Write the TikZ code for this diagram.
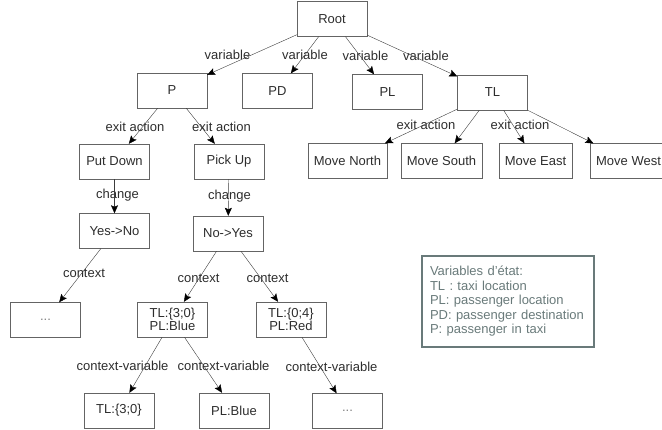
\documentclass[tikz,border=0pt]{standalone}
\usepackage{fontspec}
\setmainfont{Liberation Sans}
\usetikzlibrary{arrows.meta}
\definecolor{edgegray}{RGB}{60,60,60}
\definecolor{boxgray}{RGB}{100,100,100}
\definecolor{textgray}{RGB}{45,45,45}
\definecolor{legendgray}{RGB}{105,122,122}
\begin{document}
\begin{tikzpicture}[x=1pt,y=-1pt,
    every node/.style={font=\fontsize{13}{14.5}\selectfont,text=textgray},
    box/.style={draw=boxgray,minimum width=70pt,minimum height=35pt,inner xsep=6pt,inner ysep=2pt,align=center},
    twoline/.style={box,font=\fontsize{13}{13.5}\selectfont},
    dotsbox/.style={box,text=gray},
    lbl/.style={inner sep=0pt},
    legendbox/.style={draw=legendgray,line width=1.2pt,text=legendgray,align=left,
      text width=156pt,inner xsep=8pt,minimum height=91pt}]
      \useasboundingbox (0,0) rectangle (662,430);
      \clip (0,0) rectangle (662,430);
      \draw
        (332,19) node[box] (root){Root}
        (172,90.5) node[box] (p){P}
        (277.5,91) node[box] (pd){PD}
        (387.5,92) node[box] (pl){PL}
        (492.5,92.5) node[box] (tl){TL}
        (114.5,161.5) node[box] (putdown){Put Down}
        (229,161.5) node[box] (pickup){Pick Up}
        (347.5,161) node[box] (north){Move North}
        (441.5,161) node[box] (south){Move South}
        (535.5,161) node[box] (east){Move East}
        (628.5,161) node[box] (west){Move West}
        (114.5,231) node[box] (yesno){Yes->No}
        (228,233.5) node[box] (noyes){No->Yes}
        (45.5,320) node[dotsbox] (dotsa){...}
        (172.5,319.5) node[twoline] (tlblue){TL:\{3;0\}\\PL:Blue}
        (291,319.5) node[twoline] (tlred){TL:\{0;4\}\\PL:Red}
        (119,410.5) node[box] (tlthree){TL:\{3;0\}}
        (234,410.5) node[box] (plblue){PL:Blue}
        (347.5,411) node[dotsbox] (dotsb){...};
      % edge labels
      \draw
        (227.5,55) node[lbl] (va){variable}
        (305,55) node[lbl] (vb){variable}
        (365.5,56) node[lbl] (vc){variable}
        (426,56) node[lbl] (vd){variable}
        (135,127) node[lbl] (ea){exit action}
        (221.5,127) node[lbl] (eb){exit action}
        (426,125) node[lbl] (ec){exit action}
        (520,125) node[lbl] (ed){exit action}
        (117.5,195) node[lbl] (ca){change}
        (229.5,196) node[lbl] (cb){change}
        (84,273) node[lbl] (xa){context}
        (198.5,278) node[lbl] (xb){context}
        (267.5,278) node[lbl] (xc){context}
        (122.5,366) node[lbl] (cva){context-variable}
        (223.5,366) node[lbl] (cvb){context-variable}
        (331.5,367) node[lbl] (cvc){context-variable};
      \node[legendbox] (legend) at (508,301.5)
        {Variables d\char"27\relax état:\\TL : taxi location\\PL: passenger location\\PD: passenger destination\\P: passenger in taxi};
      \begin{scope}[draw=edgegray,-{Stealth[length=8pt,width=7pt,inset=1.5pt,color=black]}]
        \draw (root) to (p);
        \draw (root) to (pd);
        \draw (root) to (pl);
        \draw (root) to (tl);
        \draw (p) to (putdown);
        \draw (p) to (pickup);
        \draw (tl) to (north);
        \draw (tl) to (south);
        \draw (tl) to (east);
        \draw (tl) to (west);
        \draw (putdown) to (yesno);
        \draw (pickup) to (noyes);
        \draw (yesno) to (dotsa);
        \draw (noyes) to (tlblue);
        \draw (noyes) to (tlred);
        \draw (tlblue) to (tlthree);
        \draw (tlblue) to (plblue);
        \draw (tlred) to (dotsb);
      \end{scope}
    \end{tikzpicture}
\end{document}
